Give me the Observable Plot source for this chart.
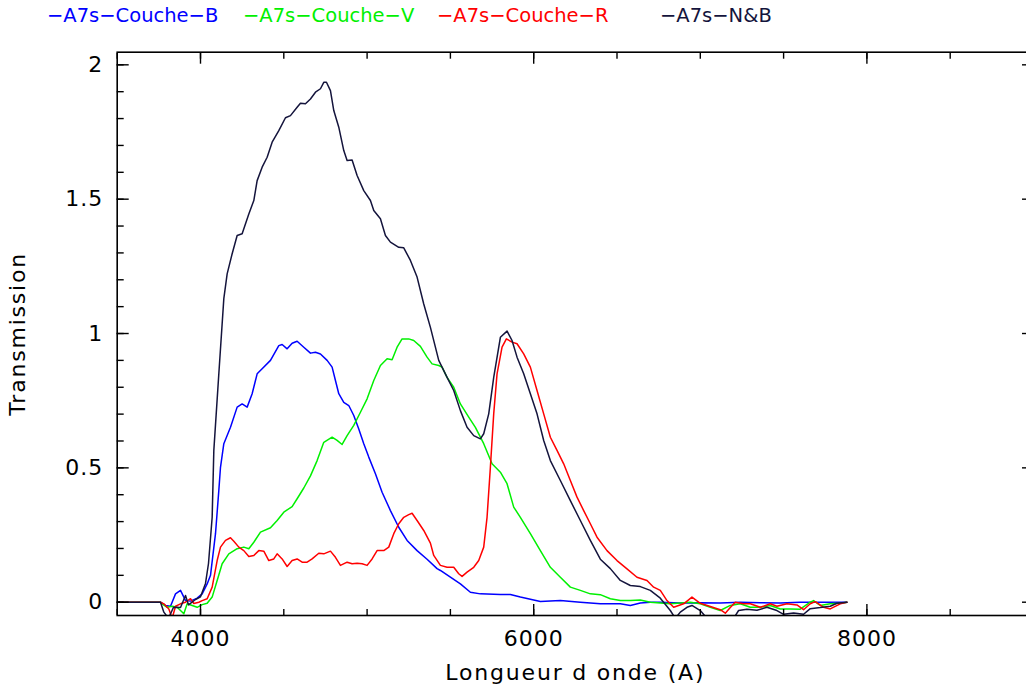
<!DOCTYPE html>
<html><head><meta charset="utf-8">
<script src="https://cdn.jsdelivr.net/npm/d3@7"></script>
<script src="https://cdn.jsdelivr.net/npm/@observablehq/plot@0.6"></script>
<style>
html,body{margin:0;padding:0;background:#fff;overflow:hidden;}
#legend{position:relative;height:34px;font-family:"DejaVu Sans",sans-serif;font-size:19.5px;}
#legend span{position:absolute;top:4px;white-space:nowrap;}
#chart svg{display:block;overflow:visible;}
#chart svg g[aria-label="x-axis label"] text, #chart svg g[aria-label="y-axis label"] text{letter-spacing:1.8px;}
#chart svg g[aria-label="x-axis tick label"] text, #chart svg g[aria-label="y-axis tick label"] text{letter-spacing:1px;}
</style></head><body>
<div id="legend"></div>
<div id="chart"></div>
<script>
// Series names and colours
const seriesNames = ["A7s−Couche−B", "A7s−Couche−V", "A7s−Couche−R", "A7s−N&B"];
const seriesColors = ["#0000ff", "#00f000", "#ff0000", "#14143c"];
const legendLeft = [47, 243, 437, 660];

// Axis ticks
const xMajorTicks = [4000, 6000, 8000];
const xMinorTicks = [3500, 4000, 4500, 5000, 5500, 6000, 6500, 7000, 7500, 8000, 8500, 9000];
const yMajorTicks = [0, 0.5, 1, 1.5, 2];
const yMinorTicks = [0, 0.1, 0.2, 0.3, 0.4, 0.5, 0.6, 0.7, 0.8, 0.9, 1, 1.1, 1.2, 1.3, 1.4, 1.5, 1.6, 1.7, 1.8, 1.9, 2];

// [wavelength (A), transmission]
const dataB = [[3500,0],[3760,0],[3790,-0.012],[3820,-0.015],[3850,0.031],[3880,0.044],[3900,0.019],[3910,0.006],[3940,0.004],[3980,0.015],[4010,0.031],[4040,0.068],[4060,0.1],[4090,0.255],[4110,0.416],[4120,0.502],[4140,0.59],[4180,0.651],[4220,0.726],[4250,0.738],[4280,0.726],[4310,0.776],[4340,0.85],[4370,0.869],[4420,0.9],[4470,0.955],[4490,0.959],[4520,0.943],[4550,0.964],[4580,0.971],[4620,0.949],[4660,0.927],[4690,0.93],[4720,0.924],[4760,0.9],[4790,0.875],[4810,0.825],[4830,0.776],[4860,0.744],[4890,0.732],[4920,0.695],[4950,0.645],[4980,0.59],[5010,0.54],[5050,0.478],[5090,0.409],[5140,0.341],[5190,0.279],[5240,0.23],[5300,0.192],[5360,0.16],[5420,0.125],[5440,0.118],[5500,0.093],[5560,0.068],[5620,0.037],[5680,0.031],[5800,0.029],[5860,0.029],[5920,0.019],[6040,0.003],[6160,0.006],[6280,0],[6400,-0.006],[6520,-0.006],[6580,-0.012],[6640,-0.003],[6700,0],[6760,0],[6880,-0.003],[7000,-0.002],[7120,-0.003],[7240,0],[7360,-0.002],[7480,-0.003],[7600,0],[7720,0],[7800,0],[7880,0]];

const dataV = [[3500,0],[3760,0],[3770,-0.006],[3800,-0.019],[3830,-0.015],[3860,-0.019],[3900,-0.043],[3920,-0.006],[3950,-0.012],[3980,-0.019],[4010,-0.009],[4040,-0.004],[4070,0.019],[4100,0.081],[4130,0.143],[4170,0.18],[4220,0.199],[4260,0.205],[4290,0.199],[4320,0.223],[4360,0.261],[4420,0.277],[4460,0.304],[4500,0.335],[4550,0.356],[4580,0.385],[4620,0.425],[4660,0.47],[4700,0.527],[4740,0.595],[4790,0.614],[4820,0.602],[4850,0.587],[4880,0.62],[4920,0.658],[4960,0.707],[5000,0.757],[5040,0.825],[5080,0.881],[5120,0.906],[5150,0.902],[5180,0.949],[5210,0.98],[5250,0.98],[5280,0.974],[5320,0.952],[5360,0.912],[5390,0.887],[5430,0.881],[5450,0.875],[5480,0.837],[5520,0.8],[5560,0.738],[5610,0.689],[5650,0.651],[5700,0.59],[5750,0.515],[5800,0.484],[5840,0.441],[5880,0.354],[5920,0.316],[5980,0.255],[6040,0.192],[6100,0.13],[6160,0.093],[6220,0.056],[6280,0.044],[6340,0.031],[6400,0.028],[6460,0.013],[6520,0.006],[6580,0.006],[6640,0.008],[6700,0],[6820,-0.006],[6940,0],[7000,-0.006],[7060,-0.019],[7120,-0.031],[7180,-0.012],[7240,-0.006],[7300,-0.019],[7360,-0.019],[7420,-0.012],[7480,-0.025],[7540,-0.025],[7600,-0.026],[7660,0],[7680,0.006],[7720,-0.012],[7780,-0.006],[7840,-0.004],[7880,0]];

const dataR = [[3500,0],[3760,0],[3780,-0.006],[3810,-0.025],[3830,-0.06],[3850,-0.015],[3880,-0.006],[3910,0],[3940,0.013],[3960,-0.005],[3990,0],[4010,0.006],[4040,0.013],[4070,0.056],[4100,0.155],[4120,0.205],[4150,0.23],[4180,0.24],[4200,0.227],[4230,0.205],[4260,0.192],[4290,0.17],[4320,0.174],[4350,0.192],[4380,0.19],[4410,0.155],[4440,0.161],[4460,0.18],[4490,0.161],[4520,0.133],[4550,0.155],[4580,0.161],[4610,0.149],[4640,0.149],[4670,0.161],[4710,0.182],[4740,0.18],[4780,0.19],[4810,0.167],[4840,0.137],[4880,0.149],[4910,0.143],[4940,0.145],[4970,0.143],[5000,0.137],[5030,0.161],[5060,0.192],[5100,0.192],[5130,0.205],[5160,0.255],[5190,0.292],[5220,0.316],[5250,0.326],[5270,0.331],[5300,0.304],[5340,0.267],[5380,0.22],[5400,0.174],[5440,0.137],[5480,0.13],[5520,0.13],[5550,0.106],[5570,0.096],[5600,0.112],[5640,0.13],[5670,0.155],[5700,0.205],[5720,0.316],[5740,0.502],[5760,0.701],[5780,0.85],[5810,0.949],[5836,0.98],[5870,0.968],[5900,0.962],[5940,0.924],[5980,0.875],[6020,0.788],[6060,0.701],[6100,0.614],[6140,0.565],[6180,0.515],[6220,0.453],[6260,0.391],[6300,0.341],[6340,0.292],[6380,0.242],[6440,0.192],[6500,0.155],[6560,0.124],[6620,0.093],[6680,0.081],[6720,0.056],[6760,0.044],[6800,0.006],[6840,-0.019],[6900,-0.006],[6950,0.019],[7000,-0.004],[7060,-0.016],[7120,-0.028],[7150,-0.041],[7180,-0.02],[7210,0],[7260,-0.006],[7300,-0.006],[7360,-0.019],[7420,-0.006],[7460,-0.015],[7520,-0.006],[7580,-0.01],[7620,-0.028],[7660,-0.006],[7690,0.002],[7740,-0.019],[7780,-0.025],[7840,-0.006],[7880,0]];

const dataNB = [[3500,0],[3760,0],[3780,-0.037],[3808,-0.06],[3838,-0.019],[3880,-0.02],[3910,0.025],[3928,-0.01],[3970,0.01],[4000,0.02],[4030,0.07],[4048,0.144],[4070,0.316],[4080,0.565],[4110,0.85],[4140,1.13],[4160,1.222],[4190,1.297],[4220,1.365],[4250,1.371],[4290,1.445],[4320,1.495],[4340,1.569],[4370,1.619],[4400,1.656],[4430,1.712],[4470,1.755],[4510,1.803],[4540,1.811],[4580,1.842],[4600,1.857],[4630,1.855],[4660,1.873],[4690,1.898],[4720,1.911],[4740,1.935],[4756,1.935],[4780,1.904],[4800,1.83],[4830,1.768],[4860,1.681],[4880,1.644],[4910,1.646],[4940,1.588],[4980,1.532],[5020,1.495],[5040,1.458],[5080,1.427],[5110,1.365],[5140,1.34],[5190,1.321],[5220,1.319],[5260,1.272],[5300,1.21],[5340,1.11],[5380,1.023],[5430,0.9],[5480,0.837],[5520,0.788],[5560,0.713],[5600,0.651],[5640,0.62],[5680,0.608],[5700,0.627],[5730,0.701],[5760,0.837],[5800,0.986],[5840,1.009],[5870,0.974],[5900,0.912],[5940,0.85],[5980,0.776],[6020,0.701],[6060,0.602],[6100,0.527],[6160,0.453],[6220,0.378],[6280,0.304],[6340,0.23],[6400,0.16],[6460,0.125],[6520,0.081],[6580,0.062],[6640,0.058],[6700,0.044],[6760,0.015],[6820,-0.031],[6850,-0.06],[6880,-0.037],[6920,-0.019],[6950,-0.012],[7000,-0.031],[7040,-0.06],[7160,-0.06],[7200,-0.06],[7230,-0.031],[7280,-0.026],[7340,-0.03],[7400,-0.019],[7460,-0.031],[7500,-0.045],[7560,-0.04],[7620,-0.045],[7660,-0.024],[7720,-0.02],[7780,-0.015],[7820,-0.004],[7880,0]];

const seriesData = [dataB, dataV, dataR, dataNB];
const rows = seriesData.flatMap((s, k) => s.map(([lambda, t]) => ({series: seriesNames[k], lambda, t})));

// Legend
const legend = document.getElementById("legend");
seriesNames.forEach((name, k) => {
  const span = document.createElement("span");
  span.textContent = "−" + name;
  span.style.left = legendLeft[k] + "px";
  span.style.color = seriesColors[k];
  legend.appendChild(span);
});

const fmt = d => String(d);
const font = "'DejaVu Sans', sans-serif";

const chart = Plot.plot({
  width: 1026,
  height: 654,
  marginLeft: 116.7,
  marginRight: -7,
  marginTop: 17.7,
  marginBottom: 73,
  style: {fontFamily: font, fontSize: "21px", color: "black", background: "white", overflow: "visible"},
  x: {domain: [3500, 9000]},
  y: {domain: [-0.0495, 2.047]},
  color: {domain: seriesNames, range: seriesColors},
  marks: [
    Plot.line(rows, {x: "lambda", y: "t", z: "series", stroke: "series", strokeWidth: 1.5, clip: true}),
    Plot.frame({stroke: "black", strokeWidth: 1.6}),
    // inward ticks
    Plot.axisX(xMinorTicks, {anchor: "bottom", tickSize: -6, fill: "none", label: null, strokeWidth: 1.4}),
    Plot.axisX(xMajorTicks, {anchor: "bottom", tickSize: -11, fill: "none", label: null, strokeWidth: 1.4}),
    Plot.axisX(xMinorTicks, {anchor: "top", tickSize: -6, fill: "none", label: null, strokeWidth: 1.4}),
    Plot.axisX(xMajorTicks, {anchor: "top", tickSize: -11, fill: "none", label: null, strokeWidth: 1.4}),
    Plot.axisY(yMinorTicks, {anchor: "left", tickSize: -7, fill: "none", label: null, strokeWidth: 1.4}),
    Plot.axisY(yMajorTicks, {anchor: "left", tickSize: -12, fill: "none", label: null, strokeWidth: 1.4}),
    Plot.axisY(yMinorTicks, {anchor: "right", tickSize: -7, fill: "none", label: null, strokeWidth: 1.4}),
    Plot.axisY(yMajorTicks, {anchor: "right", tickSize: -12, fill: "none", label: null, strokeWidth: 1.4}),
    // labels
    Plot.axisX(xMajorTicks, {anchor: "bottom", tickSize: 0, tickPadding: 15, tickFormat: fmt, fontSize: 22,
      label: "Longueur d onde (A)", labelAnchor: "center", labelOffset: 64, labelArrow: "none"}),
    Plot.axisY(yMajorTicks, {anchor: "left", tickSize: 0, tickPadding: 14, tickFormat: fmt, fontSize: 22,
      label: "Transmission", labelAnchor: "center", labelOffset: 108, labelArrow: "none"})
  ]
});
document.getElementById("chart").appendChild(chart);
</script>
</body></html>
